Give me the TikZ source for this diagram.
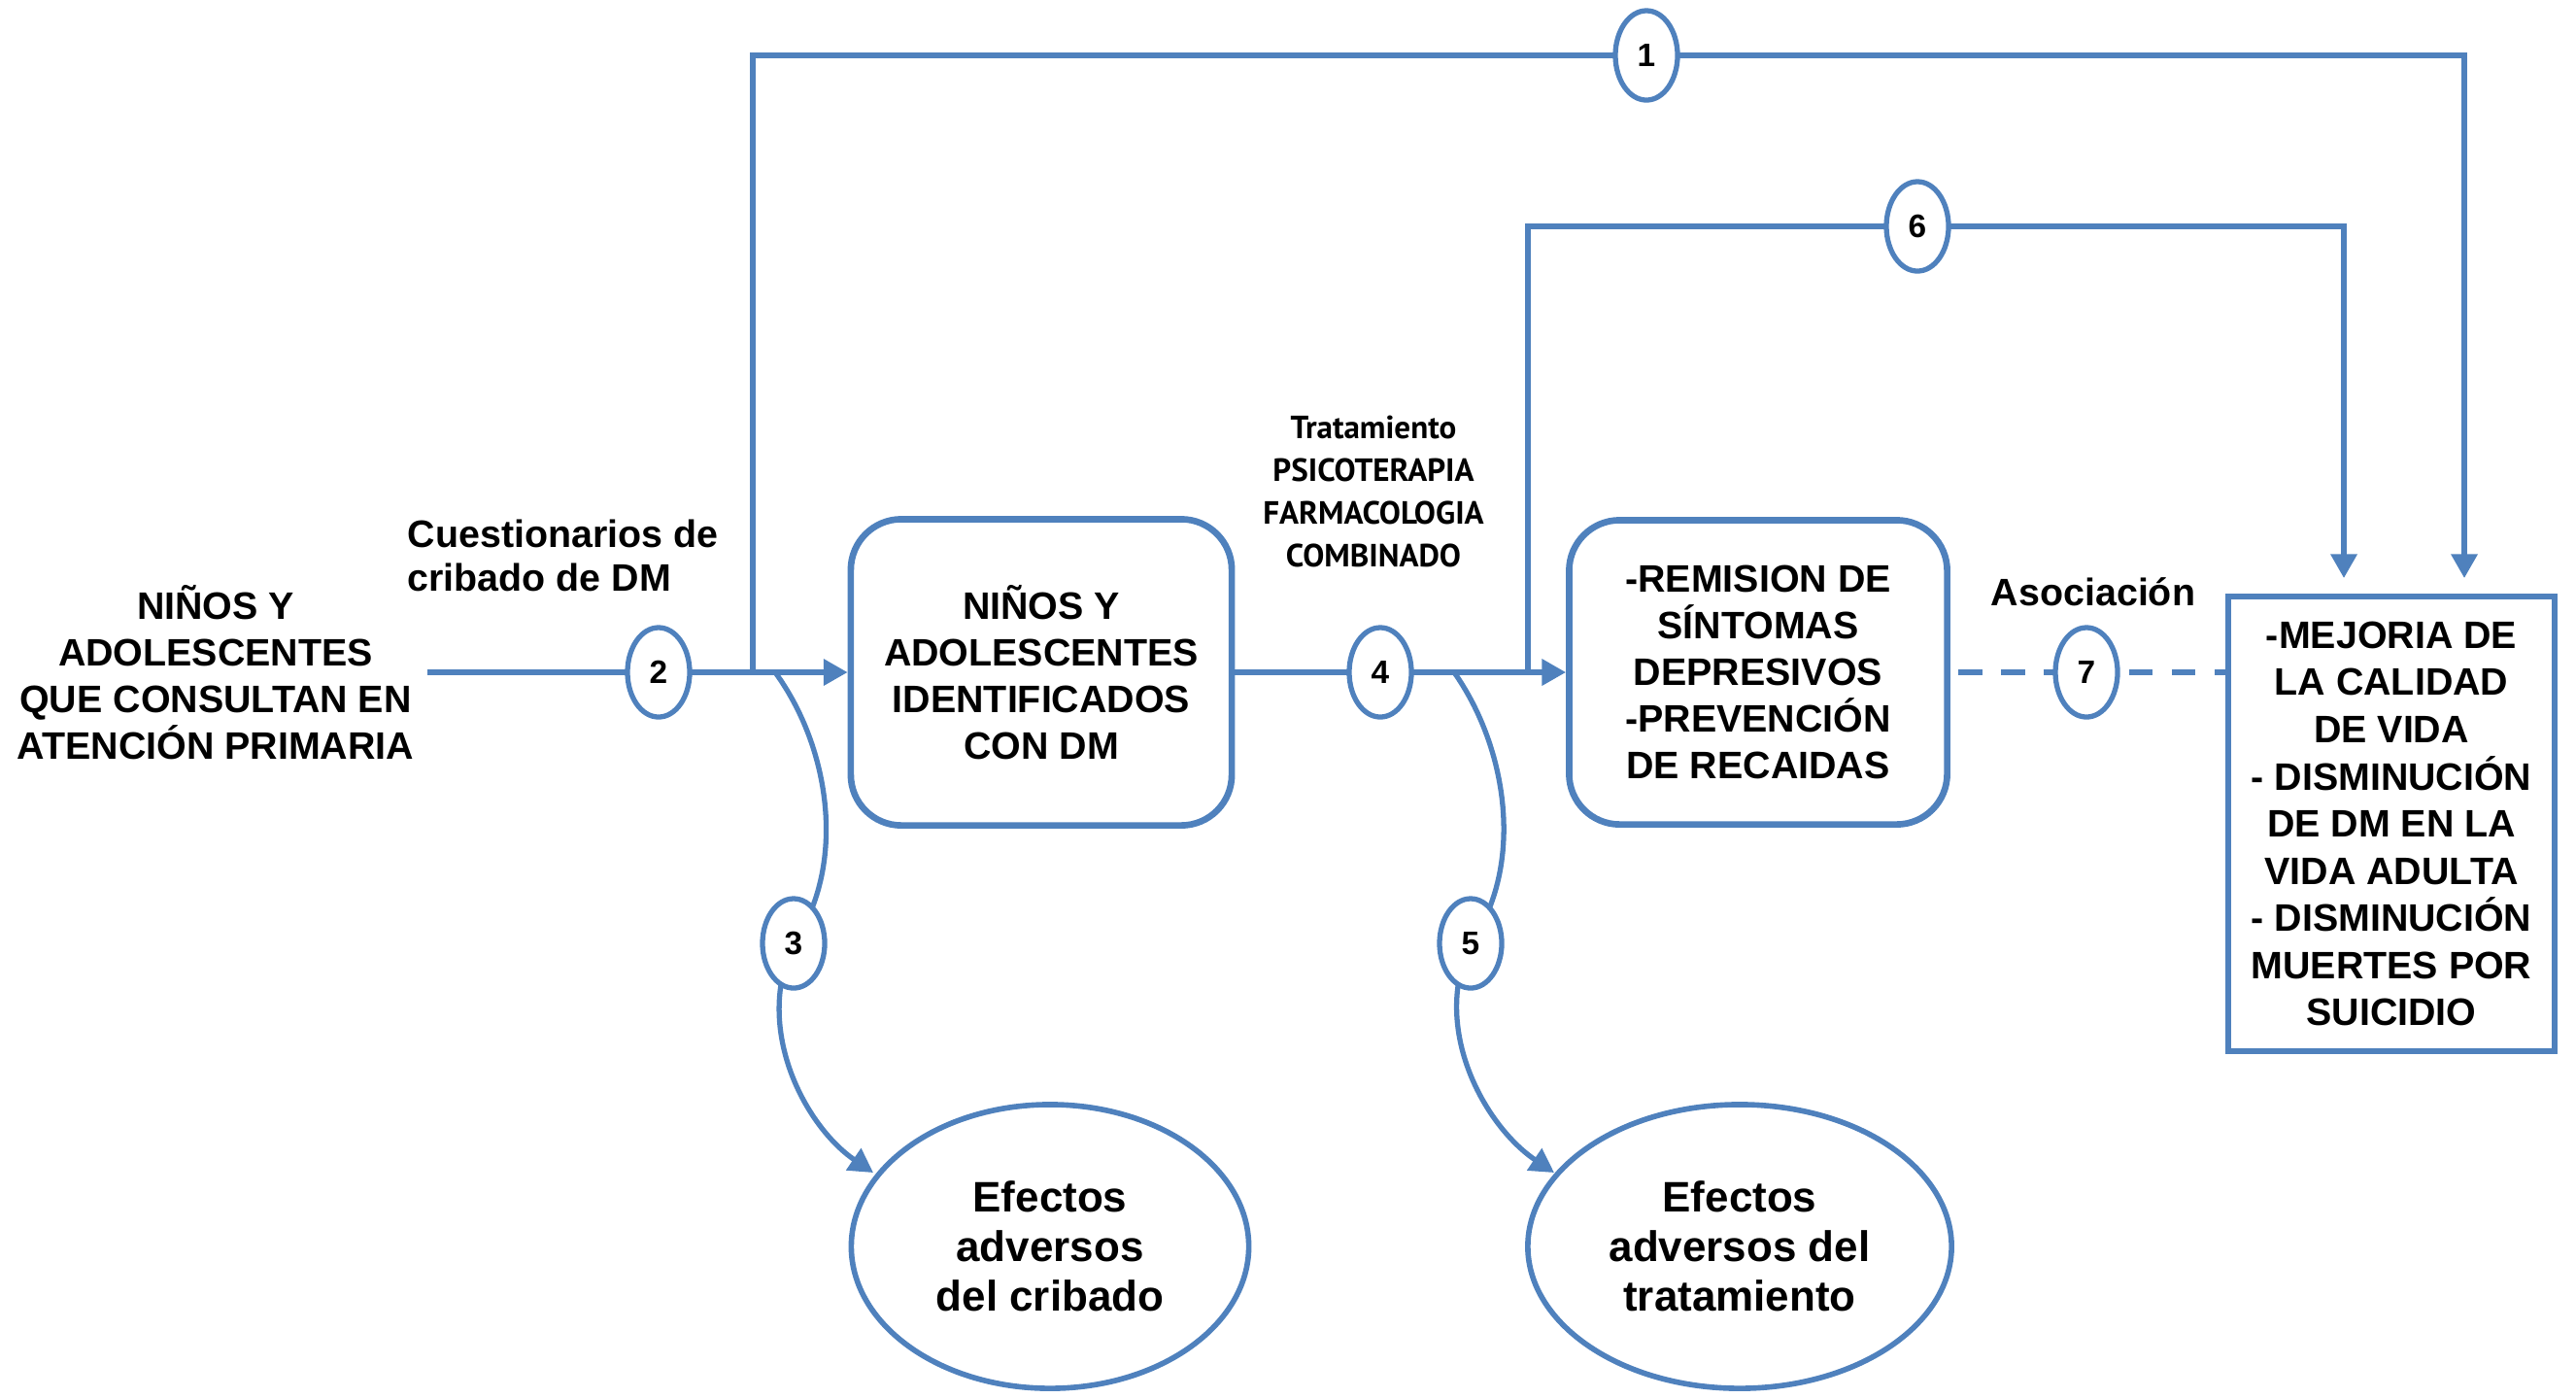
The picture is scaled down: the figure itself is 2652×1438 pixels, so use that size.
\documentclass[tikz,border=0pt]{standalone}
\usepackage{fontspec}
\setmainfont{Liberation Sans}
\newfontfamily\tratfont{PT Sans}
\usetikzlibrary{shapes.geometric,arrows.meta}
\definecolor{lb}{RGB}{79,129,189}
\begin{document}
\begin{tikzpicture}[x=0.01cm,y=-0.01cm,
  conn/.style={draw=lb,line width=1.5pt},
  arr/.style={conn,-{Triangle[length=7pt,width=7.5pt]}},
  dsh/.style={conn,dash pattern=on 7pt off 5.5pt},
  num/.style={ellipse,draw=lb,line width=1.5pt,fill=white,minimum width=0.64cm,minimum height=0.92cm,inner sep=0pt,font=\fontsize{9.5}{11}\selectfont\bfseries},
  rbox/.style={rectangle,rounded corners=0.52cm,draw=lb,line width=1.9pt,fill=white,align=center,inner sep=0pt,font=\fontsize{11.2}{13.6}\selectfont\bfseries},
  sbox/.style={rectangle,draw=lb,line width=1.7pt,fill=white,align=center,inner sep=0pt,font=\fontsize{11.2}{13.8}\selectfont\bfseries},
  ebox/.style={ellipse,draw=lb,line width=1.6pt,fill=white,align=center,inner sep=0pt,font=\fontsize{12.5}{14.5}\selectfont\bfseries},
  txt/.style={align=center,inner sep=0pt,font=\fontsize{11.2}{13.6}\selectfont\bfseries},
  lbl/.style={align=left,inner sep=0pt,font=\fontsize{11.2}{12.8}\selectfont\bfseries},
  trat/.style={align=center,inner sep=0pt,font=\tratfont\fontsize{9.4}{12.5}\selectfont\bfseries}]
\useasboundingbox (0,0) rectangle (2652,1438);

% main nodes
\node[txt] (src) at (222,692) {NIÑOS Y\\ADOLESCENTES\\QUE CONSULTAN EN\\ATENCIÓN PRIMARIA};
\node[rbox,minimum width=3.92cm,minimum height=3.15cm] (b2) at (1072,692) {NIÑOS Y\\ADOLESCENTES\\IDENTIFICADOS\\CON DM};
\node[rbox,minimum width=3.89cm,minimum height=3.13cm] (b3) at (1810,692) {-REMISION DE\\SÍNTOMAS\\DEPRESIVOS\\-PREVENCIÓN\\DE RECAIDAS};
\node[sbox,minimum width=3.35cm,minimum height=4.68cm] (b5) at (2462,848) {-MEJORIA DE\\LA CALIDAD\\DE VIDA\\- DISMINUCIÓN\\DE DM EN LA\\VIDA ADULTA\\- DISMINUCIÓN\\MUERTES POR\\SUICIDIO};
\node[ebox,minimum width=4.09cm,minimum height=2.92cm] (e1) at (1081,1283) {Efectos\\adversos\\del cribado};
\node[ebox,minimum width=4.36cm,minimum height=2.92cm] (e2) at (1791,1283) {Efectos\\adversos del\\tratamiento};

% labels
\node[lbl,anchor=west] (lq) at (419,572) {Cuestionarios de\\cribado de DM};
\node[trat] (lt) at (1414,506) {Tratamiento\\PSICOTERAPIA\\FARMACOLOGIA\\COMBINADO};
\node[lbl,anchor=center] (la) at (2155,609) {Asociación};

% coordinates
\coordinate (s) at (440,692);
\coordinate (j1) at (775,692);
\coordinate (k1) at (775,57);
\coordinate (k1r) at (2537,57);
\coordinate (a1) at (2537,595);
\coordinate (j6) at (1573,692);
\coordinate (k6) at (1573,233);
\coordinate (k6r) at (2413,233);
\coordinate (a6) at (2413,595);
\coordinate (j3) at (798,692);
\coordinate (j5) at (1497,692);
\coordinate (a3) at (899,1207);
\coordinate (a5) at (1600,1207);
\coordinate (p1) at (1695,57);
\coordinate (p6) at (1974,233);
\coordinate (p2) at (678,692);
\coordinate (p4) at (1421,692);
\coordinate (p7) at (2148,692);
\coordinate (p3) at (817,971);
\coordinate (p5) at (1514,971);
\coordinate (d1) at (2016,692);

% connectors
\draw[arr] (s) -- (b2.west);
\draw[arr] (b2.east) -- (b3.west);
\draw[dsh] (d1) -- (d1 -| b5.west);
\draw[arr] (j1) -- (k1) -- (k1r) -- (a1);
\draw[arr] (j6) -- (k6) -- (k6r) -- (a6);
\draw[conn] (j3) .. controls (855,770) and (872,890) .. (p3);
\draw[arr] (p3) .. controls (775,1060) and (830,1160) .. (a3);
\draw[conn] (j5) .. controls (1552,770) and (1570,890) .. (p5);
\draw[arr] (p5) .. controls (1472,1060) and (1530,1160) .. (a5);

% numbered markers
\node[num] (n1) at (p1) {1};
\node[num] (n2) at (p2) {2};
\node[num] (n3) at (p3) {3};
\node[num] (n4) at (p4) {4};
\node[num] (n5) at (p5) {5};
\node[num] (n6) at (p6) {6};
\node[num] (n7) at (p7) {7};
\end{tikzpicture}
\end{document}
